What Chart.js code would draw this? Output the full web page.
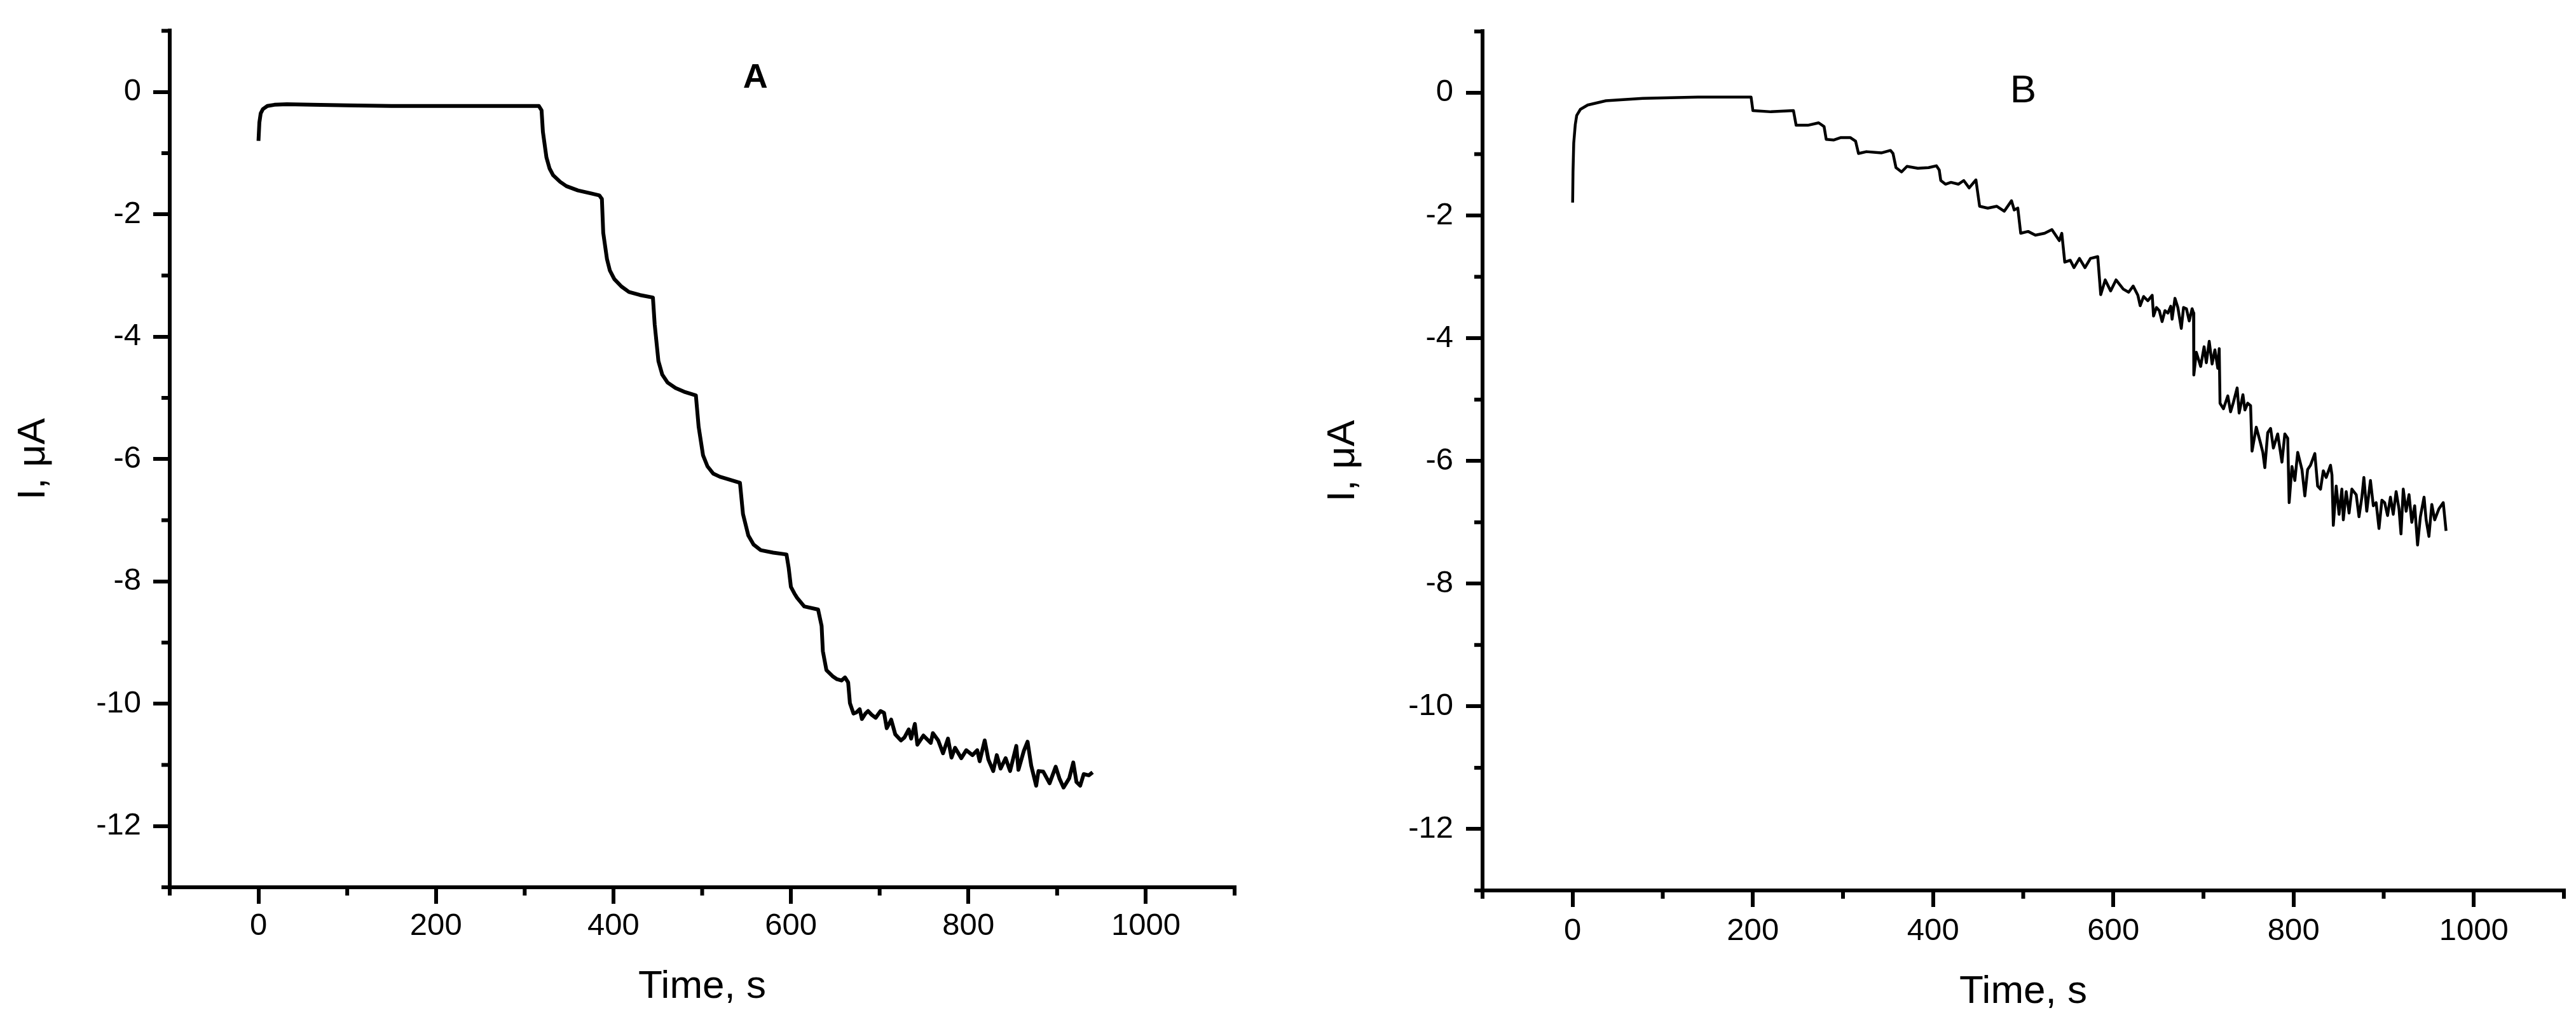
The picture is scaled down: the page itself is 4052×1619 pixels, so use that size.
<!DOCTYPE html>
<html>
<head>
<meta charset="utf-8">
<script src="https://cdn.jsdelivr.net/npm/chart.js@4.4.1/dist/chart.umd.min.js"></script>
<style>
  html, body { margin: 0; padding: 0; background: #fff; }
  body { width: 4052px; height: 1619px; position: relative; overflow: hidden; }
  .panel { position: absolute; top: 0; width: 2026px; height: 1619px; }
  #boxA { left: 0; }
  #boxB { left: 2026px; }
</style>
</head>
<body>
<div class="panel" id="boxA"><canvas id="plotA"></canvas></div>
<div class="panel" id="boxB"><canvas id="plotB"></canvas></div>
<script>
// panel A: time (s) and current (uA)
const timeA = [0, 1, 2.5, 5, 10, 18, 32, 60, 100, 150, 200, 250, 290, 316,
  319, 320.5, 324.5, 328, 332, 340, 347, 360, 375, 384,
  387, 388.5, 392.7, 396, 401, 409, 417.5, 430, 444.5,
  446.5, 450.7, 455, 461, 470, 479.6, 492.9,
  496, 501, 506, 512.6, 520, 529, 542.6,
  546, 552, 558, 566, 580, 595,
  597.5, 600, 604, 607, 615, 630.6,
  634.6, 636, 640, 647, 652, 657, 661, 664.5,
  666.5, 670.5, 674, 677.5, 680, 684, 687, 691, 695.5, 701, 705,
  708, 713, 717.6, 724, 728, 732.8, 735.5, 739.7, 742.5, 749.3,
  757.6, 760, 766, 771.4, 777, 781, 785, 792, 797.6, 804.6,
  810, 812.7, 818.4, 822.5, 828, 832, 836.3, 842, 847, 854,
  856.4, 862.5, 866.7, 870.8, 876.4, 879, 884.4, 891.5, 898.4, 902.6,
  907.2, 913.6, 918.2, 921.8, 926, 930, 935.7, 940];
const currentA = [-0.80, -0.50, -0.35, -0.28, -0.23, -0.21, -0.20, -0.21, -0.22, -0.23, -0.23, -0.23, -0.23, -0.23,
  -0.30, -0.65, -1.07, -1.25, -1.36, -1.47, -1.54, -1.61, -1.66, -1.69,
  -1.75, -2.30, -2.73, -2.92, -3.06, -3.18, -3.27, -3.32, -3.36,
  -3.80, -4.40, -4.62, -4.75, -4.84, -4.90, -4.96,
  -5.47, -5.94, -6.12, -6.24, -6.29, -6.33, -6.39,
  -6.90, -7.25, -7.40, -7.49, -7.53, -7.56,
  -7.78, -8.09, -8.20, -8.27, -8.41, -8.46,
  -8.73, -9.14, -9.45, -9.55, -9.60, -9.62, -9.57, -9.65,
  -9.99, -10.16, -10.14, -10.09, -10.25, -10.16, -10.12, -10.18, -10.23, -10.12, -10.15,
  -10.40, -10.26, -10.50, -10.60, -10.55, -10.42, -10.57, -10.33, -10.67, -10.52,
  -10.64, -10.48, -10.60, -10.81, -10.57, -10.88, -10.72, -10.89, -10.76, -10.84,
  -10.76, -10.94, -10.60, -10.91, -11.10, -10.84, -11.06, -10.89, -11.10, -10.69,
  -11.08, -10.77, -10.62, -11.01, -11.34, -11.10, -11.11, -11.30, -11.03, -11.22,
  -11.37, -11.22, -10.96, -11.28, -11.34, -11.15, -11.17, -11.12];

// panel B
const timeB = [0, 0.4, 1.2, 2.9, 4.5, 8.6, 16.7, 37, 78, 139,
  198, 200, 220, 245, 248, 261, 273, 279, 281.4, 289.5,
  297.7, 308, 314, 317.2, 326, 342.5, 352.7, 355.5, 358.8, 365,
  371, 383, 395, 403.6, 406.8, 408.5, 413.7, 419.8, 428, 434,
  440, 447.5, 451.6, 460.6, 470.7, 479, 487, 490, 494, 497.2,
  505.4, 513.5, 523.7, 531.8, 540, 542.8, 546.1, 552.2, 556.3, 562.4,
  568.5, 574.6, 582.7, 586, 591, 597, 603, 611, 617, 622,
  627.2, 629.8, 633.6, 638.3, 643.1, 644.6, 647.8, 651, 654.1, 657.3,
  660.5, 663.7, 665.2, 668.4, 671.6, 675.4, 677.9, 681.1, 684.2, 687.4,
  689, 689.3, 692.1, 696.9, 700.7, 703.2, 706.4, 709.6, 712.7, 715.9,
  717.5, 718.4, 722.2, 727, 730.1, 733.3, 737.4, 739.6, 743.8, 746,
  749.1, 752.3, 753.9, 758.6, 762.8, 765.9, 768.1, 771.3, 774.5, 777.6,
  782.4, 787.1, 790.3, 793.5, 795.1, 798.2, 801.4, 804.6, 809.3, 812.5,
  815.6, 818.8, 823.6, 826.7, 829.9, 833, 836.2, 841, 842.6, 844.1,
  847.3, 850.5, 853.6, 855.2, 858.4, 861.6, 864.7, 869.5, 872.6, 875.8,
  878, 881.2, 885.3, 888.5, 891.6, 894.8, 898, 901.1, 904.3, 907.5,
  910.6, 913.8, 917, 919.2, 921.7, 924.9, 928.1, 931.2, 934.4, 937.6,
  940.7, 944.8, 947.1, 950.2, 953.4, 956.6, 961.3, 966.1, 969.2];
const currentB = [-1.79, -1.29, -0.82, -0.52, -0.37, -0.27, -0.20, -0.13, -0.09, -0.07,
  -0.07, -0.29, -0.31, -0.29, -0.53, -0.53, -0.49, -0.55, -0.76, -0.77,
  -0.73, -0.73, -0.79, -0.99, -0.96, -0.98, -0.94, -0.99, -1.22, -1.29,
  -1.20, -1.23, -1.22, -1.19, -1.26, -1.43, -1.49, -1.46, -1.49, -1.43,
  -1.55, -1.42, -1.85, -1.88, -1.85, -1.93, -1.76, -1.91, -1.88, -2.29,
  -2.26, -2.32, -2.29, -2.23, -2.41, -2.29, -2.76, -2.73, -2.85, -2.70,
  -2.85, -2.70, -2.67, -3.29, -3.05, -3.23, -3.05, -3.20, -3.25, -3.15,
  -3.30, -3.47, -3.32, -3.39, -3.30, -3.64, -3.50, -3.55, -3.73, -3.55,
  -3.59, -3.48, -3.69, -3.35, -3.50, -3.84, -3.50, -3.52, -3.72, -3.52,
  -3.59, -4.60, -4.23, -4.46, -4.14, -4.40, -4.05, -4.42, -4.19, -4.49,
  -4.17, -5.06, -5.15, -4.94, -5.20, -5.04, -4.81, -5.22, -4.92, -5.17,
  -5.06, -5.10, -5.84, -5.45, -5.68, -5.86, -6.11, -5.54, -5.47, -5.79,
  -5.56, -6.02, -5.56, -5.63, -6.68, -6.09, -6.32, -5.86, -6.14, -6.57,
  -6.14, -6.07, -5.88, -6.41, -6.46, -6.16, -6.27, -6.07, -6.23, -7.05,
  -6.41, -6.87, -6.46, -6.96, -6.50, -6.85, -6.46, -6.55, -6.91, -6.59,
  -6.27, -6.82, -6.32, -6.73, -6.68, -7.10, -6.64, -6.68, -6.89, -6.59,
  -6.87, -6.50, -6.78, -7.19, -6.46, -6.82, -6.55, -7.00, -6.73, -7.37,
  -6.91, -6.59, -6.96, -7.23, -6.71, -6.96, -6.78, -6.68, -7.14];

// tick values
const xTicks = [0, 200, 400, 600, 800, 1000];
const xMinor = [-100, 100, 300, 500, 700, 900, 1100];
const yTicks = [0, -2, -4, -6, -8, -10, -12];
const yMinor = [1, -1, -3, -5, -7, -9, -11, -13];

// panel letters, placed in data units [text, time, current]
const letterA = ['A', 560, 0.22];
const letterB = ['B', 500, 0.02];

Chart.defaults.font.family = "'Liberation Sans', Arial, sans-serif";
Chart.defaults.color = '#000';

const minorTicks = {
  id: 'minorTicks',
  afterDraw(chart) {
    const {ctx, scales: {x, y}} = chart;
    ctx.save();
    ctx.strokeStyle = '#000';
    ctx.lineWidth = 6;
    ctx.beginPath();
    xMinor.forEach(v => {
      const px = x.getPixelForValue(v);
      ctx.moveTo(px, x.top);
      ctx.lineTo(px, x.top + 13);
    });
    yMinor.forEach(v => {
      const py = y.getPixelForValue(v);
      ctx.moveTo(y.right, py);
      ctx.lineTo(y.right - 13, py);
    });
    ctx.stroke();
    ctx.restore();
  }
};

const panelLetter = {
  id: 'panelLetter',
  afterDraw(chart, args, opts) {
    const {ctx, scales: {x, y}} = chart;
    ctx.save();
    ctx.font = opts.font;
    ctx.fillStyle = '#000';
    ctx.textAlign = 'center';
    ctx.textBaseline = 'middle';
    ctx.fillText(opts.label[0], x.getPixelForValue(opts.label[1]), y.getPixelForValue(opts.label[2]));
    ctx.restore();
  }
};

function makePlot(id, times, currents, cfg) {
  return new Chart(document.getElementById(id), {
    type: 'line',
    data: {
      datasets: [{
        data: times.map((t, i) => ({x: t, y: currents[i]})),
        borderColor: '#000',
        borderWidth: cfg.lineWidth,
        borderJoinStyle: 'round',
        pointRadius: 0,
        tension: 0,
        fill: false
      }]
    },
    options: {
      responsive: true,
      maintainAspectRatio: false,
      animation: false,
      devicePixelRatio: 1,
      layout: {padding: cfg.padding},
      plugins: {
        legend: {display: false},
        tooltip: {enabled: false},
        panelLetter: {label: cfg.letter, font: cfg.letterFont}
      },
      scales: {
        x: {
          type: 'linear',
          min: -100,
          max: 1100,
          afterBuildTicks: s => { s.ticks = xTicks.map(v => ({value: v})); },
          afterFit: s => { s.height = cfg.xHeight; },
          grid: {drawOnChartArea: false, tickLength: 26, lineWidth: 6, color: '#000'},
          border: {color: '#000', width: 6},
          ticks: {font: {size: 49}, padding: cfg.xTickPad, maxRotation: 0, callback: v => String(v)},
          title: {display: true, text: 'Time, s', font: {size: 62}, padding: {top: 0, bottom: cfg.xTitlePad}}
        },
        y: {
          type: 'linear',
          min: -13,
          max: 1,
          afterBuildTicks: s => { s.ticks = yTicks.map(v => ({value: v})); },
          afterFit: s => { s.width = cfg.yWidth; },
          grid: {drawOnChartArea: false, tickLength: 26, lineWidth: 6, color: '#000'},
          border: {color: '#000', width: 6},
          ticks: {font: {size: 49}, padding: cfg.yTickPad, callback: v => String(v)},
          title: {display: true, text: 'I, μA', font: {size: 62}, padding: {top: cfg.yTitlePad, bottom: 0}}
        }
      }
    },
    plugins: [minorTicks, panelLetter]
  });
}

makePlot('plotA', timeA, currentA, {
  lineWidth: 6,
  padding: {top: 37, right: 84, bottom: 0, left: 0},
  xHeight: 223, yWidth: 267,
  xTickPad: 6, yTickPad: 19, xTitlePad: 29, yTitlePad: 16,
  letter: letterA, letterFont: "bold 54px 'Liberation Sans', Arial, sans-serif"
});

makePlot('plotB', timeB, currentB, {
  lineWidth: 4.5,
  padding: {top: 29, right: 19, bottom: 0, left: 0},
  xHeight: 218, yWidth: 306,
  xTickPad: 9, yTickPad: 20, xTitlePad: 21, yTitlePad: 50,
  letter: letterB, letterFont: "62px 'Liberation Sans', Arial, sans-serif"
});
</script>
</body>
</html>
